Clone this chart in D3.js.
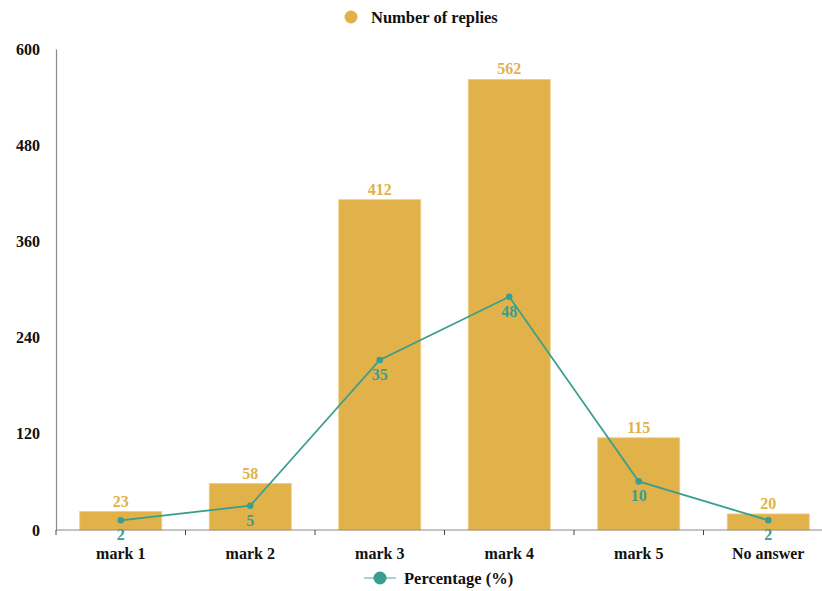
<!DOCTYPE html>
<html>
<head>
<meta charset="utf-8">
<script src="https://cdn.jsdelivr.net/npm/d3@7/dist/d3.min.js"></script>
<style>
  html, body { margin: 0; padding: 0; background: #fff; }
  svg { display: block; font-family: "Liberation Serif", "Times New Roman", serif; font-weight: bold; }
</style>
</head>
<body>
<svg id="chart" width="822" height="591"></svg>
<script>
// Survey results: replies per mark and their share in percent
const categories = ["mark 1", "mark 2", "mark 3", "mark 4", "mark 5", "No answer"];
const replies = [23, 58, 412, 562, 115, 20];
const percentage = [2, 5, 35, 48, 10, 2];
const yTicks = [0, 120, 240, 360, 480, 600];

const barColor = "#E1B249";
const lineColor = "#3A9E8E";
const axisColor = "#8a8a8a";
const fontSize = 16;

const svg = d3.select("#chart");

const plot = { left: 56, top: 49, bottom: 530 };
const step = 129.5;

const x = d3.scaleBand()
  .domain(categories)
  .range([plot.left, plot.left + step * categories.length])
  .paddingInner(0.367)
  .paddingOuter(0.1835);

const y = d3.scaleLinear().domain([0, 600]).range([plot.bottom, plot.top]);
// hidden secondary scale for the percentage line
const y2 = d3.scaleLinear().domain([0, 99]).range([plot.bottom, plot.top]);

// bars
svg.append("g").selectAll("rect")
  .data(replies)
  .join("rect")
  .attr("x", (d, i) => x(categories[i]))
  .attr("y", d => y(d))
  .attr("width", x.bandwidth())
  .attr("height", d => y(0) - y(d))
  .attr("fill", barColor)
  .attr("stroke", "#EDCB80")
  .attr("stroke-width", 0.8);

// y axis
const yAxis = d3.axisLeft(y).tickValues(yTicks).tickSize(0).tickPadding(16);
const gy = svg.append("g").attr("transform", `translate(${plot.left},0)`).call(yAxis);
gy.select(".domain").attr("stroke", axisColor).attr("stroke-width", 1.2);
gy.selectAll("text")
  .attr("font-family", "Liberation Serif, serif")
  .attr("font-weight", "bold")
  .attr("font-size", fontSize)
  .attr("fill", "#111");

// x axis with ticks at band boundaries
const gx = svg.append("g").attr("transform", `translate(0,${plot.bottom})`);
gx.append("line")
  .attr("x1", plot.left).attr("x2", plot.left + step * categories.length)
  .attr("stroke", axisColor).attr("stroke-width", 1.2);
gx.selectAll("line.tick")
  .data(d3.range(categories.length + 1))
  .join("line")
  .attr("class", "tick")
  .attr("x1", i => plot.left + step * i).attr("x2", i => plot.left + step * i)
  .attr("y1", 0).attr("y2", 5)
  .attr("stroke", "#444").attr("stroke-width", 1);
gx.selectAll("text")
  .data(categories)
  .join("text")
  .attr("x", d => x(d) + x.bandwidth() / 2)
  .attr("y", 29)
  .attr("text-anchor", "middle")
  .attr("font-size", fontSize)
  .attr("fill", "#111")
  .text(d => d);

// bar value labels
svg.append("g").selectAll("text")
  .data(replies)
  .join("text")
  .attr("x", (d, i) => x(categories[i]) + x.bandwidth() / 2)
  .attr("y", d => y(d) - 5)
  .attr("text-anchor", "middle")
  .attr("font-size", fontSize)
  .attr("fill", barColor)
  .text(d => d);

// percentage line
const cx = (d, i) => x(categories[i]) + x.bandwidth() / 2;
const line = d3.line().x(cx).y(d => y2(d));
svg.append("path")
  .datum(percentage)
  .attr("d", line)
  .attr("fill", "none")
  .attr("stroke", lineColor)
  .attr("stroke-width", 1.8);
svg.append("g").selectAll("circle")
  .data(percentage)
  .join("circle")
  .attr("cx", cx)
  .attr("cy", d => y2(d))
  .attr("r", 3.3)
  .attr("fill", lineColor);
svg.append("g").selectAll("text")
  .data(percentage)
  .join("text")
  .attr("x", cx)
  .attr("y", d => y2(d) + 20)
  .attr("text-anchor", "middle")
  .attr("font-size", fontSize)
  .attr("fill", lineColor)
  .text(d => d);

// legends
const legendTop = svg.append("g");
legendTop.append("circle").attr("cx", 351).attr("cy", 17).attr("r", 6.5).attr("fill", barColor);
legendTop.append("text").attr("x", 371).attr("y", 22.5).attr("font-size", 16.5).attr("fill", "#111").text("Number of replies");

const legendBottom = svg.append("g");
legendBottom.append("line").attr("x1", 364).attr("x2", 396).attr("y1", 578).attr("y2", 578)
  .attr("stroke", lineColor).attr("stroke-width", 1.5).attr("opacity", 0.6);
legendBottom.append("circle").attr("cx", 380).attr("cy", 578).attr("r", 6.5).attr("fill", lineColor);
legendBottom.append("text").attr("x", 404).attr("y", 583.5).attr("font-size", 16.5).attr("fill", "#111").text("Percentage (%)");
</script>
</body>
</html>
